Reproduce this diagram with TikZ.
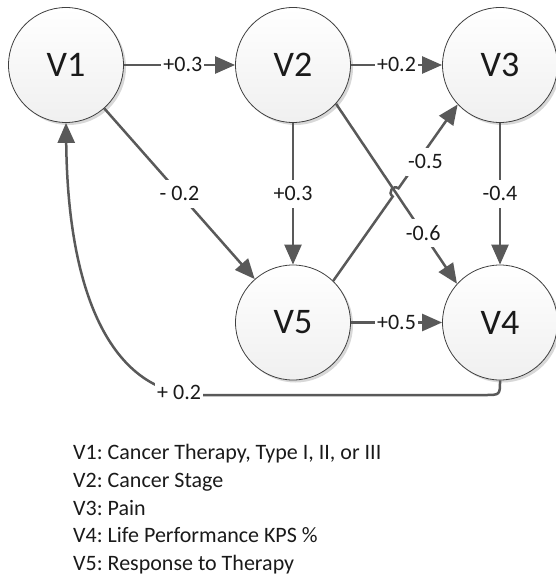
\documentclass[tikz,border=0pt]{standalone}
\usepackage{fontspec}
\setmainfont{Carlito}
\usetikzlibrary{arrows.meta,calc,intersections,shadows}
\definecolor{edgegray}{RGB}{89,89,89}
\definecolor{rimgray}{RGB}{64,64,64}
\definecolor{inkgray}{RGB}{26,26,26}
\frenchspacing
\begin{document}
\begin{tikzpicture}[x=1pt,y=-1pt,
  var/.style={circle, minimum size=115pt, inner sep=0pt, draw=rimgray, line width=0.8pt,
    top color=white, bottom color=black!6,
    drop shadow={shadow xshift=2.5pt, shadow yshift=-2.5pt, fill=black!22, opacity=0.7},
    font=\fontsize{36}{40}\selectfont, text=inkgray},
  edge/.style={draw=edgegray, line width=2.5pt, -{Triangle[length=20pt,width=17pt]}},
  lbl/.style={fill=white, inner xsep=2pt, inner ysep=3pt, text height=18pt, text depth=4pt,
    font=\fontsize{22}{26}\selectfont, text=inkgray},
  legend/.style={anchor=base west, inner sep=0pt, font=\fontsize{22}{28}\selectfont, text=inkgray}]
\useasboundingbox (0,0) rectangle (555,577);

% variables
\node[var] (v1) at (66,65)    {V1};
\node[var] (v2) at (293,65)   {V2};
\node[var] (v3) at (500,65)   {V3};
\node[var] (v5) at (293,322.5) {V5};
\node[var] (v4) at (500,322.5) {V4};

% straight influences
\draw[edge] (v1) -- node[lbl,pos=0.53] {+0.3} (v2);
\draw[edge] (v2) -- node[lbl] {+0.2} (v3);
\draw[edge] (v1) -- node[lbl] {- 0.2} (v5);
\draw[edge] (v2) -- node[lbl] {+0.3} (v5);
\draw[edge] (v3) -- node[lbl] {-0.4} (v4);
\draw[edge] (v5) -- node[lbl] {+0.5} (v4);
\draw[edge, name path=l24] (v2.-42) -- node[lbl,pos=0.72] {-0.6} (v4.138);

% V5 -> V3 hops over V2 -> V4
\path[name path=l53] (v5.46) -- (v3.223);
\path[name intersections={of=l24 and l53, by=cx}];
\coordinate (h1) at ($(cx)!5pt!(v5.46)$);
\coordinate (h2) at ($(cx)!5pt!(v3.223)$);
\draw[edge] (v5.46) -- (h1)
  .. controls ($(h1)!6.7pt!90:(cx)$) and ($(h2)!6.7pt!-90:(cx)$) .. (h2)
  -- node[lbl,pos=0.32,xshift=8pt] {-0.5} (v3.223);

% feedback V4 -> V1
\draw[edge] (v4.south) .. controls (500,395) .. (485,395) -- (200,395)
  .. controls (120,395) and (68,310) .. node[lbl,pos=0.09] {+ 0.2} (v1.south);

% legend
\node[legend] (leg1) at (73,459) {V1: Cancer Therapy, Type I, II, or III};
\node[legend] (leg2) at (73,487) {V2: Cancer Stage};
\node[legend] (leg3) at (73,515) {V3: Pain};
\node[legend] (leg4) at (73,542) {V4: Life Performance KPS \%};
\node[legend] (leg5) at (73,570) {V5: Response to Therapy};
\end{tikzpicture}
\end{document}
